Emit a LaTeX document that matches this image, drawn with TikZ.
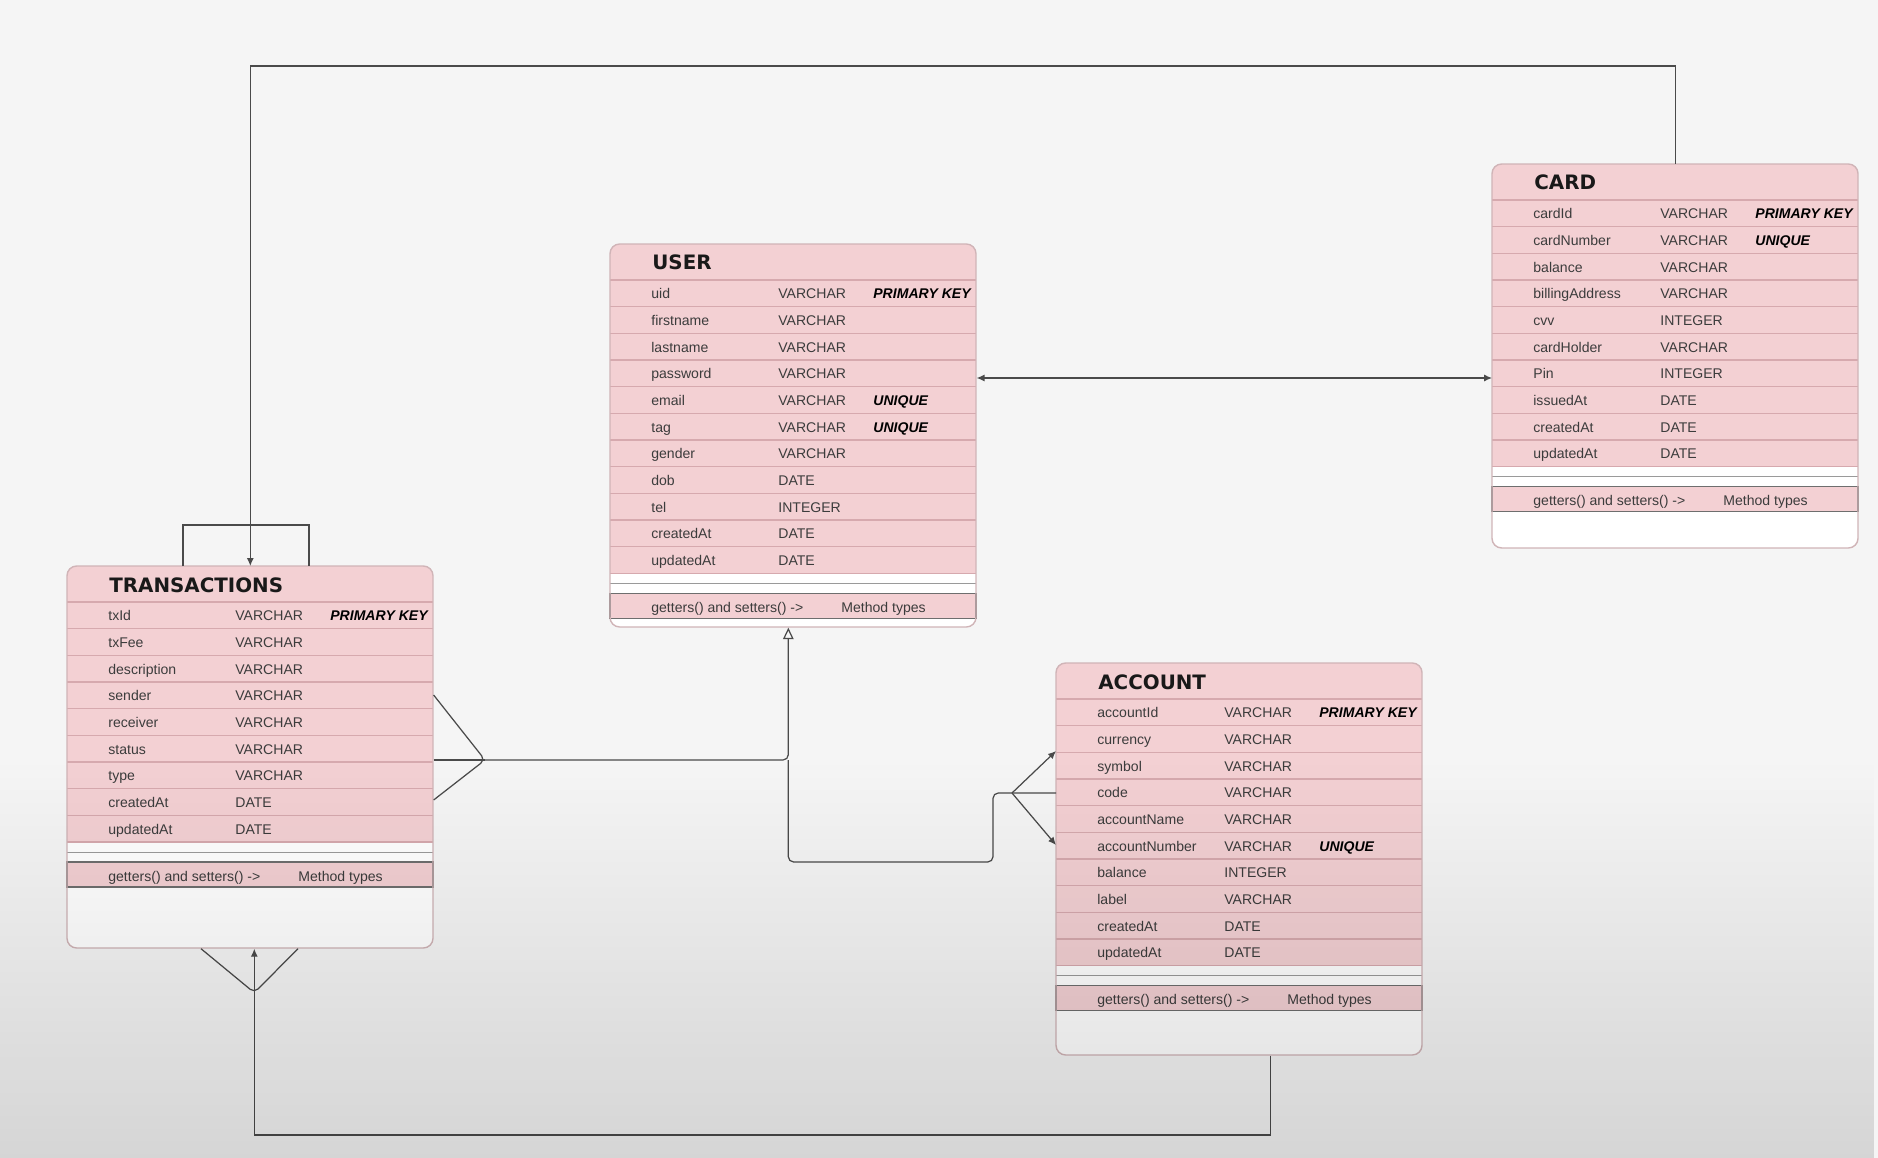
\documentclass[tikz,border=0pt]{standalone}
\usepackage{fontspec}
\setmainfont{Liberation Sans}
\newfontfamily\titlefont{DejaVu Sans}
\usetikzlibrary{calc,arrows.meta,fadings}

\definecolor{bgcol}{HTML}{F5F5F5}
\definecolor{rowpink}{HTML}{F3D0D3}
\definecolor{rowline}{HTML}{D6A9AE}
\definecolor{boxline}{HTML}{D0B4B7}
\definecolor{methline}{HTML}{6E6E6E}
\definecolor{txtcol}{HTML}{3C3C3C}
\definecolor{wirecol}{HTML}{4A4A4A}

\tikzfading[name=darkbottom, top color=transparent!100, bottom color=transparent!0]

\tikzset{
  fieldtext/.style={anchor=base west, inner sep=0, font=\fontsize{8}{9}\selectfont, text=txtcol},
  keytext/.style={fieldtext, font=\fontsize{8}{9}\selectfont\bfseries\itshape, text=black},
  titletext/.style={anchor=base west, inner sep=0, font=\titlefont\fontsize{11.3}{13}\selectfont\bfseries, text=black!90},
  wire/.style={draw=wirecol, line width=0.7pt, rounded corners=3pt},
  tip/.style={-{Latex[length=4.5pt,width=4pt]}},
}

% table: #1 name, #2 left, #3 top, #4 title, #5 rows, #6 height, #7 fields
\newcommand{\erdtable}[7]{%
  \begin{scope}[shift={(#2,#3)}]
    \pgfmathsetmacro{\rowend}{36+#5*26.67}
    % Фон таблицы
    \begin{scope}
      \clip[rounded corners=5.5pt] (0,0) rectangle (366,#6);
      \fill[white] (0,0) rectangle (366,#6);
      \fill[rowpink] (0,0) rectangle (366,\rowend);
    \end{scope}
    \foreach \k in {0,...,#5}
      \draw[rowline, line width=0.8pt] (0,{36+\k*26.67}) -- (366,{36+\k*26.67});
    \draw[methline!70, line width=0.6pt] (0,{\rowend+10}) -- (366,{\rowend+10});
    \draw[methline, fill=rowpink, line width=0.7pt] (0,{\rowend+20}) rectangle (366,{\rowend+45});
    \draw[boxline, line width=0.8pt, rounded corners=5.5pt] (0,0) rectangle (366,#6);
    % Поля
    \node[titletext] at (42,26) {#4};
    \foreach \fname/\ftype/\fkey [count=\i] in {#7} {
      \node[fieldtext] at (41,{36+(\i-0.5)*26.67+5.5}) {\fname};
      \node[fieldtext] at (168,{36+(\i-0.5)*26.67+5.5}) {\ftype};
      \node[keytext] at (263,{36+(\i-0.5)*26.67+5.5}) {\fkey};
    }
    \node[fieldtext] at (41,{\rowend+39}) {getters() and setters() ->};
    \node[fieldtext] at (231,{\rowend+39}) {Method types};
  \end{scope}
  \node[inner sep=0, minimum width=7.32cm, minimum height=#6*0.02cm, anchor=north west] (#1) at (#2,#3) {};
}

\begin{document}
\begin{tikzpicture}[x=0.02cm, y=-0.02cm]
    \fill[bgcol] (0,0) rectangle (1878,1158);
    \useasboundingbox (0,0) rectangle (1878,1158);

    % Таблицы
    \erdtable{user}{610}{244}{USER}{11}{383}{uid/VARCHAR/PRIMARY KEY, firstname/VARCHAR/, lastname/VARCHAR/,
      password/VARCHAR/, email/VARCHAR/UNIQUE, tag/VARCHAR/UNIQUE, gender/VARCHAR/, dob/DATE/,
      tel/INTEGER/, createdAt/DATE/, updatedAt/DATE/}
    \erdtable{trans}{67}{566}{TRANSACTIONS}{9}{382}{txId/VARCHAR/PRIMARY KEY, txFee/VARCHAR/,
      description/VARCHAR/, sender/VARCHAR/, receiver/VARCHAR/, status/VARCHAR/, type/VARCHAR/,
      createdAt/DATE/, updatedAt/DATE/}
    \erdtable{acc}{1056}{663}{ACCOUNT}{10}{392}{accountId/VARCHAR/PRIMARY KEY, currency/VARCHAR/,
      symbol/VARCHAR/, code/VARCHAR/, accountName/VARCHAR/, accountNumber/VARCHAR/UNIQUE,
      balance/INTEGER/, label/VARCHAR/, createdAt/DATE/, updatedAt/DATE/}
    \erdtable{card}{1492}{164}{CARD}{10}{384}{cardId/VARCHAR/PRIMARY KEY, cardNumber/VARCHAR/UNIQUE,
      balance/VARCHAR/, billingAddress/VARCHAR/, cvv/INTEGER/, cardHolder/VARCHAR/, Pin/INTEGER/,
      issuedAt/DATE/, createdAt/DATE/, updatedAt/DATE/}

    % CARD -> TRANSACTIONS (верхняя линия)
    \coordinate (toprail) at (0,66);
    \draw[wire, tip, rounded corners=0pt] (card.north) |- (toprail -| trans.north) -- (trans.north);
    \draw[wire, rounded corners=0pt] ($(trans.north west)+(116,0)$) -- ++(0,-41) -| ($(trans.north west)+(242,0)$);

    % USER <-> CARD
    \coordinate (uclink) at (0,378);
    \draw[wire, {Latex[length=4.5pt,width=4pt]}-{Latex[length=4.5pt,width=4pt]}] (user.east |- uclink) -- (card.west |- uclink);

    % TRANSACTIONS -> USER
    \coordinate (tcrow) at (485,760);
    \coordinate (ujoin) at ($(user.south)+(-5,0)$);
    \draw[wire] (trans.east |- 0,695) -- (tcrow) -- (trans.east |- 0,800);
    \draw[wire] (trans.east |- tcrow) -- (tcrow);
    \draw[wire, -{Triangle[open,length=6.5pt,width=6pt]}] (tcrow) -| (ujoin);

    % ACCOUNT -> USER
    \coordinate (acrow) at (1012,793);
    \draw[wire, tip] (acrow) -- (acc.west |- 0,751);
    \draw[wire, tip] (acrow) -- (acc.west |- 0,845);
    \draw[wire] (acc.west |- acrow) -- (acrow) -- ++(-19,0) |- (ujoin |- 0,862) -- (ujoin |- tcrow);

    % ACCOUNT -> TRANSACTIONS (нижняя линия)
    \coordinate (bottomrail) at (0,1135);
    \coordinate (tfoot) at ($(trans.south)+(4,0)$);
    \draw[wire, tip, rounded corners=0pt] ($(acc.south)+(31,0)$) |- (bottomrail -| tfoot) -- (tfoot);
    \draw[wire] ($(trans.south west)+(134,0)$) -- ($(tfoot)+(0,44)$) -- ($(trans.south west)+(231,0)$);

    % Затемнение снизу
    \fill[black, opacity=0.13, path fading=darkbottom] (0,760) rectangle (1878,1158);
\end{tikzpicture}
\end{document}
